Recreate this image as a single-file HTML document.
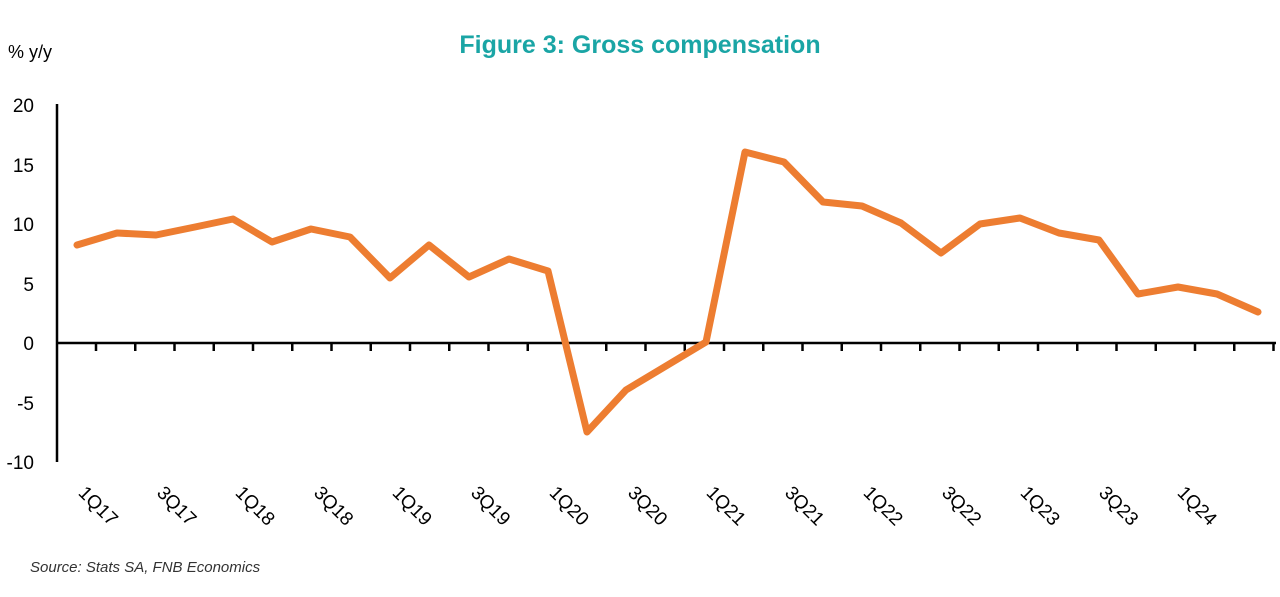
<!DOCTYPE html>
<html><head><style>
body{margin:0;background:#fff;}
svg{display:block;font-family:"Liberation Sans",Arial,sans-serif;}
</style></head><body>
<svg width="1280" height="597" viewBox="0 0 1280 597">
<text x="640" y="53" text-anchor="middle" font-size="25" font-weight="bold" fill="#1aa5a5">Figure 3: Gross compensation</text>
<text x="8" y="58" font-size="18" fill="#000">% y/y</text>
<g font-size="19" fill="#000" text-anchor="end">
<text x="34" y="112">20</text>
<text x="34" y="172">15</text>
<text x="34" y="231">10</text>
<text x="34" y="291">5</text>
<text x="34" y="350">0</text>
<text x="34" y="410">-5</text>
<text x="34" y="469">-10</text>
</g>
<line x1="57" y1="104" x2="57" y2="462" stroke="#000" stroke-width="2.5"/>
<line x1="56" y1="343" x2="1276" y2="343" stroke="#000" stroke-width="2.5"/>
<path stroke="#000" stroke-width="2.5" d="M96 343v8M135.25 343v8M174.5 343v8M213.75 343v8M253 343v8M292.25 343v8M331.5 343v8M370.75 343v8M410 343v8M449.25 343v8M488.5 343v8M527.75 343v8M567 343v8M606.25 343v8M645.5 343v8M684.75 343v8M724 343v8M763.25 343v8M802.5 343v8M841.75 343v8M881 343v8M920.25 343v8M959.5 343v8M998.75 343v8M1038 343v8M1077.25 343v8M1116.5 343v8M1155.75 343v8M1195 343v8M1234.25 343v8M1273.5 343v8"/>
<polyline fill="none" stroke="#ed7d31" stroke-width="7" stroke-linejoin="round" stroke-linecap="round" points="77,245 117,233 156,235 195,227 233,219 272,242 311,229 350,237 390,278 429,245 469,277 509,259 548,271 587,432 626,390 666,366 706,342 745,152 784,162 823,202 862,206 901,223 941,253 980,224 1020,218 1059,233 1099,240 1138,294 1178,287 1217,294 1258,312"/>
<g font-size="19" fill="#000" text-anchor="middle">
<text transform="translate(98,506) rotate(45)" dy="6">1Q17</text>
<text transform="translate(176.5,506) rotate(45)" dy="6">3Q17</text>
<text transform="translate(255,506) rotate(45)" dy="6">1Q18</text>
<text transform="translate(333.5,506) rotate(45)" dy="6">3Q18</text>
<text transform="translate(412,506) rotate(45)" dy="6">1Q19</text>
<text transform="translate(490.5,506) rotate(45)" dy="6">3Q19</text>
<text transform="translate(569,506) rotate(45)" dy="6">1Q20</text>
<text transform="translate(647.5,506) rotate(45)" dy="6">3Q20</text>
<text transform="translate(726,506) rotate(45)" dy="6">1Q21</text>
<text transform="translate(804.5,506) rotate(45)" dy="6">3Q21</text>
<text transform="translate(883,506) rotate(45)" dy="6">1Q22</text>
<text transform="translate(961.5,506) rotate(45)" dy="6">3Q22</text>
<text transform="translate(1040,506) rotate(45)" dy="6">1Q23</text>
<text transform="translate(1118.5,506) rotate(45)" dy="6">3Q23</text>
<text transform="translate(1197,506) rotate(45)" dy="6">1Q24</text>
</g>
<text x="30" y="572" font-size="15" font-style="italic" fill="#333">Source: Stats SA, FNB Economics</text>
</svg>
</body></html>
